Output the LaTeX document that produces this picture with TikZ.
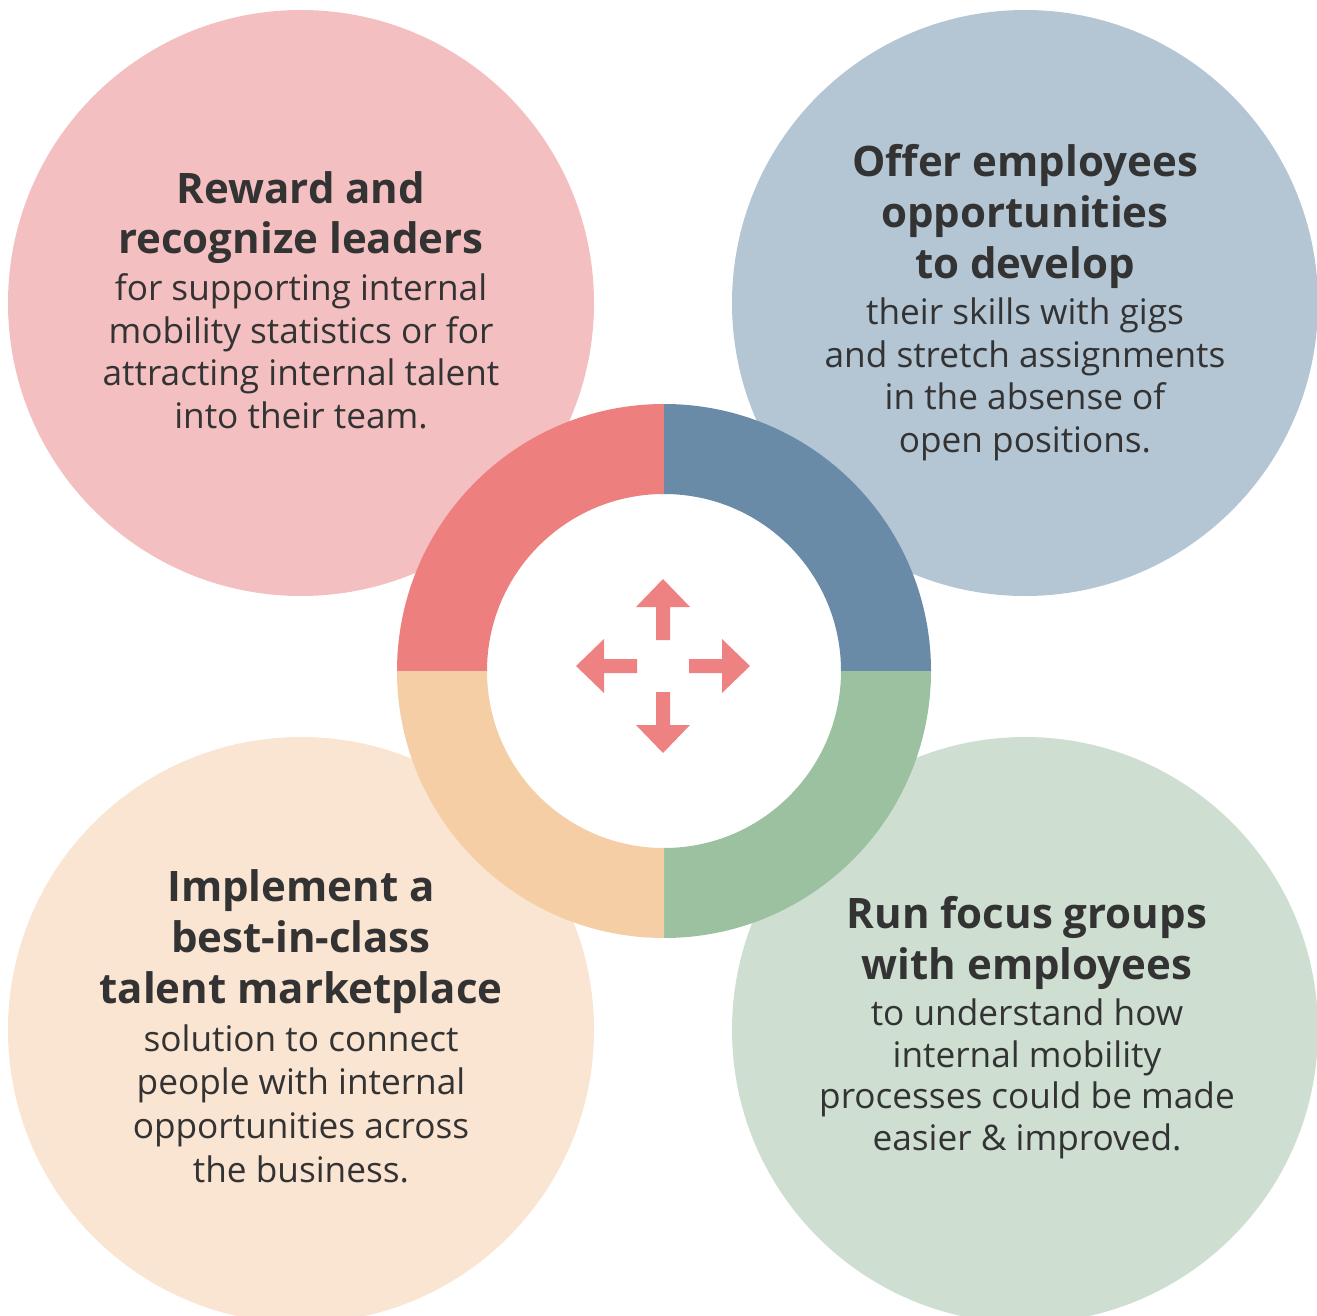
\documentclass[tikz,border=0pt]{standalone}
\usepackage{fontspec}
\setmainfont{Open Sans}
\usetikzlibrary{positioning}
\definecolor{rosedisc}{HTML}{F4BFC0}
\definecolor{bluedisc}{HTML}{B4C5D4}
\definecolor{greendisc}{HTML}{CEDFD1}
\definecolor{peachdisc}{HTML}{FAE4D2}
\definecolor{rosering}{HTML}{ED7F7F}
\definecolor{bluering}{HTML}{6A8BA8}
\definecolor{greenring}{HTML}{9CC1A0}
\definecolor{peachring}{HTML}{F5CEA6}
\definecolor{arrowrose}{HTML}{EE8282}
\definecolor{ink}{HTML}{333333}

\begin{document}
\begin{tikzpicture}[x=1pt,y=-1pt,
    title/.style={align=center,anchor=base,text=ink,inner sep=0pt,
      font=\fontsize{42}{50.7}\selectfont\bfseries},
    body/.style={align=center,anchor=base,text=ink,inner sep=0pt,
      font=\fontsize{35.2}{42.5}\selectfont}]
    \useasboundingbox (0,0) rectangle (1317,1316);
    % Discs
    \fill[rosedisc] (301,303) circle (293);
    \fill[bluedisc] (1025,303) circle (293);
    \fill[peachdisc] (301,1030) circle (293);
    \fill[greendisc] (1025,1030) circle (293);
    % Ring
    \coordinate (hub) at (664,671);
    \begin{scope}[shift={(hub)}]
      \foreach \a/\b/\col in {180/270/rosering,270/360/bluering,0/90/greenring,90/180/peachring} {
        \fill[\col] (\a:267) arc[start angle=\a,end angle=\b,radius=267]
          -- (\b:177) arc[start angle=\b,end angle=\a,radius=177] -- cycle;
      }
    \end{scope}
    % Arrows
    \coordinate (cross) at (663,666);
    \foreach \r in {0,90,180,270} {
      \fill[arrowrose,shift={(cross)},rotate=\r] (-7,-26) -- (-7,-59) -- (-27,-59)
        -- (0,-87) -- (27,-59) -- (7,-59) -- (7,-26) -- cycle;
    }
    % Labels (anchored at the baseline of the last line)
    \node[title] (rewardT) at (301,254) {Reward and\\recognize leaders};
    \node[body] (rewardB) at (301,428) {for supporting internal\\mobility statistics or for\\attracting internal talent\\into their team.};
    \node[title] (offerT) at (1025,278) {Offer employees\\opportunities\\to develop};
    \node[body] (offerB) at (1025,452) {their skills with gigs\\and stretch assignments\\in the absense of\\open positions.};
    \node[title] (implT) at (301,1003) {Implement a\\best-in-class\\talent marketplace};
    \node[body,font=\fontsize{35.2}{43.6}\selectfont] (implB) at (301,1182) {solution to connect\\people with internal\\opportunities across\\the business.};
    \node[title] (focusT) at (1027,979) {Run focus groups\\with employees};
    \node[body,font=\fontsize{35.2}{41.5}\selectfont] (focusB) at (1027,1150) {to understand how\\internal mobility\\processes could be made\\easier \& improved.};
\end{tikzpicture}
\end{document}
